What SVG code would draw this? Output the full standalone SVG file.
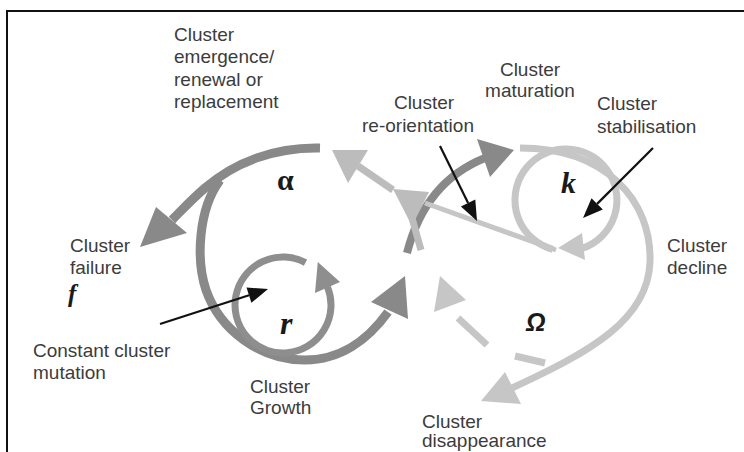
<svg xmlns="http://www.w3.org/2000/svg" width="744" height="452" viewBox="0 0 744 452">
<style>
.lbl{font-family:"Liberation Sans",Arial,sans-serif;font-size:19px;fill:#3c3c3c}
.sym{font-family:"Liberation Serif","Times New Roman",serif;font-weight:bold;fill:#1a1a1a}
.dk{fill:none;stroke:#898989;stroke-width:9}
.rr{fill:none;stroke:#8e8e8e;stroke-width:7}
.lt{fill:none;stroke:#c6c6c6;stroke-width:7}
.md{fill:none;stroke:#bcbcbc;stroke-width:7}
.dkf{fill:#898989}
.rrf{fill:#8e8e8e}
.ltf{fill:#c6c6c6}
.mdf{fill:#bcbcbc}
.ptr{stroke:#111;stroke-width:2.2;fill:none}
.ptrf{fill:#111}
</style>
<rect width="744" height="452" fill="#fff"/>
<path d="M7,452 V11 H744" fill="none" stroke="#111" stroke-width="2"/>

<g id="connectors">
  <!-- alpha top arc to failure -->
  <path class="dk" d="M320,148 C275,147 235,162 205,188 C192,199 182,210 172,220"/>
  <polygon class="dkf" points="140,247 156,207 187,233"/>
  <!-- big alpha circle and growth -->
  <path class="dk" d="M220,180 C198,210 196,260 206,290 C220,330 260,360 305,360 C340,360 368,340 388,312"/>
  <polygon class="dkf" points="405,276 371,302 408,319"/>
  <!-- r loop -->
  <path class="rr" d="M305.5,262.6 A48,48 0 1 0 327.5,287"/>
  <polygon class="rrf" points="317.8,262 340,282 315,293"/>
  <!-- dark arrow r to K -->
  <path d="M407,253 Q425,182 485,158" fill="none" stroke="#898989" stroke-width="8"/>
  <polygon class="dkf" points="514,150 477,139 490,177"/>
  <!-- outer decline arc -->
  <path class="lt" d="M520,148 C605,148 652,200 650,262 C648,320 590,352 512,388"/>
  <polygon class="ltf" points="481,401 505,372 521,404"/>
  <!-- k loop -->
  <path class="lt" d="M552.8,249.3 A51,51 0 1 1 581.8,248.5"/>
  <polygon class="ltf" points="558,248 582,233 585,260"/>
  <!-- re-orientation line -->
  <path d="M425,203 L556,250" fill="none" stroke="#c6c6c6" stroke-width="5"/>
  <!-- omega dashed back loop -->
  <path class="lt" d="M515,356 L545,363"/>
  <path class="lt" d="M458,318 L487,345"/>
  <polygon class="ltf" points="440,276 466,300 434,312"/>
  <!-- center crossing light parts -->
  <path class="md" d="M412,218 L421,250"/>
  <polygon class="mdf" points="393,189 429,192 412,226"/>
  <path class="md" d="M358,166 L393,190"/>
  <polygon class="mdf" points="332,150 368,150 348,183"/>
  <!-- black pointers -->
  <path class="ptr" d="M440,146 L468.1,203.1"/>
  <polygon class="ptrf" points="477,221 475.3,199.5 460.9,206.6"/>
  <path class="ptr" d="M653,148 L597.1,203.9"/>
  <polygon class="ptrf" points="583,218 602.8,209.6 591.5,198.3"/>
  <path class="ptr" d="M160,324 L249,295.2"/>
  <polygon class="ptrf" points="268,289 251.4,302.8 246.5,287.6"/>
</g>

<g id="node-emergence">
  <text class="lbl" x="174" y="41">Cluster</text>
  <text class="lbl" x="174" y="63">emergence/</text>
  <text class="lbl" x="174" y="86">renewal or</text>
  <text class="lbl" x="174" y="108">replacement</text>
</g>
<g id="node-maturation">
  <text class="lbl" x="530" y="76" text-anchor="middle">Cluster</text>
  <text class="lbl" x="530" y="97" text-anchor="middle">maturation</text>
</g>
<g id="node-reorientation">
  <text class="lbl" x="424" y="109" text-anchor="middle">Cluster</text>
  <text class="lbl" x="418" y="132" text-anchor="middle">re-orientation</text>
</g>
<g id="node-stabilisation">
  <text class="lbl" x="597" y="110">Cluster</text>
  <text class="lbl" x="597" y="133">stabilisation</text>
</g>
<g id="node-decline">
  <text class="lbl" x="667" y="252">Cluster</text>
  <text class="lbl" x="667" y="274">decline</text>
</g>
<g id="node-failure">
  <text class="lbl" x="70" y="252">Cluster</text>
  <text class="lbl" x="70" y="274">failure</text>
  <text class="sym" x="68" y="302" font-size="25" font-style="italic">f</text>
</g>
<g id="node-mutation">
  <text class="lbl" x="33" y="357">Constant cluster</text>
  <text class="lbl" x="33" y="379">mutation</text>
</g>
<g id="node-growth">
  <text class="lbl" x="250" y="393">Cluster</text>
  <text class="lbl" x="250" y="414">Growth</text>
</g>
<g id="node-disappearance">
  <text class="lbl" x="422" y="428">Cluster</text>
  <text class="lbl" x="422" y="447">disappearance</text>
</g>
<g id="node-alpha">
  <text class="sym" x="277" y="190" font-size="30">α</text>
</g>
<g id="node-k">
  <text class="sym" x="561" y="193" font-size="30" font-style="italic">k</text>
</g>
<g id="node-r">
  <text class="sym" x="280" y="334" font-size="32" font-style="italic">r</text>
</g>
<g id="node-omega">
  <text x="526" y="331" font-family="Liberation Sans, Arial, sans-serif" font-style="italic" font-weight="bold" font-size="25" fill="#1a1a1a">Ω</text>
</g>
</svg>
